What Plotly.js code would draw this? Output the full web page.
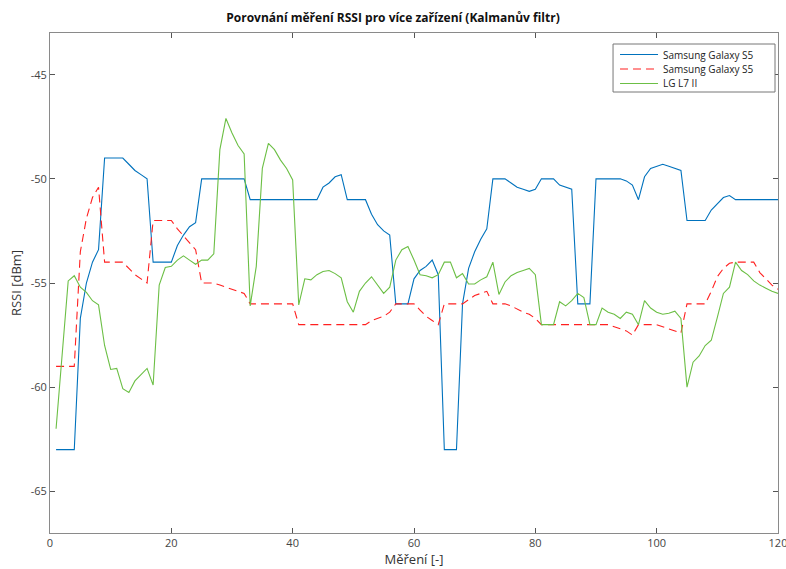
<!DOCTYPE html>
<html>
<head>
<meta charset="utf-8">
<script src="https://cdn.plot.ly/plotly-3.0.1.min.js"></script>
<style>html,body{margin:0;padding:0;background:#fff;}#chart{width:786px;height:569px;}</style>
</head>
<body>
<div id="chart"></div>
<script>
const seriesNames = ['Samsung Galaxy S5', 'Samsung Galaxy S5', 'LG L7 II'];

const samsung1 = [
  -63,-63,-63,-63,-56.7,-55,-54,-53.4,-49,-49,
  -49,-49,-49.3,-49.6,-49.8,-50,-54,-54,-54,-54,
  -53.2,-52.7,-52.3,-52.1,-50,-50,-50,-50,-50,-50,
  -50,-50,-51,-51,-51,-51,-51,-51,-51,-51,
  -51,-51,-51,-51,-50.4,-50.2,-49.9,-49.8,-51,-51,
  -51,-51,-51.7,-52.2,-52.5,-52.7,-56,-56,-56,-54.8,
  -54.4,-54.2,-53.9,-54.6,-63,-63,-63,-56,-54.3,-53.5,
  -52.9,-52.4,-50,-50,-50,-50.2,-50.4,-50.5,-50.6,-50.5,
  -50,-50,-50,-50.3,-50.4,-50.5,-56,-56,-56,-50,
  -50,-50,-50,-50,-50.1,-50.3,-51,-49.9,-49.5,-49.4,
  -49.3,-49.4,-49.5,-49.6,-52,-52,-52,-52,-51.5,-51.2,
  -50.9,-50.8,-51,-51,-51,-51,-51,-51,-51,-51
];

const samsung2 = [
  -59,-59,-59,-59,-53.5,-51.9,-50.9,-50.4,-54,-54,
  -54,-54,-54.3,-54.6,-54.8,-55,-52,-52,-52,-52,
  -52.4,-52.75,-53.1,-53.4,-55,-55,-55,-55.1,-55.2,-55.3,
  -55.4,-55.5,-56,-56,-56,-56,-56,-56,-56,-56,
  -57,-57,-57,-57,-57,-57,-57,-57,-57,-57,
  -57,-57,-56.8,-56.7,-56.6,-56.4,-56,-56,-56,-56,
  -56.3,-56.6,-56.8,-57,-56,-56,-56,-56,-55.8,-55.6,
  -55.5,-55.4,-56,-56,-56,-56.1,-56.25,-56.4,-56.5,-56.7,
  -57,-57,-57,-57,-57,-57,-57,-57,-57,-57,
  -57,-57,-57.1,-57.2,-57.3,-57.5,-57,-57,-57,-57,
  -57.1,-57.2,-57.3,-57.4,-56,-56,-56,-56,-55.4,-54.7,
  -54.3,-54.05,-54,-54,-54,-54,-54.5,-54.8,-55.1,-55.3
];

const lgL7 = [
  -62,-58.4,-54.9,-54.65,-55.2,-55.45,-55.85,-56.05,-58,-59.15,
  -59.1,-60.07,-60.26,-59.7,-59.4,-59.1,-59.9,-55.1,-54.26,-54.2,
  -53.9,-53.7,-53.9,-54.1,-53.9,-53.9,-53.6,-48.6,-47.1,-47.8,
  -48.4,-48.8,-56.1,-54.2,-49.5,-48.3,-48.6,-49.1,-49.5,-50.05,
  -56.05,-54.8,-54.85,-54.6,-54.45,-54.4,-54.55,-54.75,-55.9,-56.4,
  -55.4,-55,-54.7,-55.1,-55.5,-55.2,-53.9,-53.4,-53.25,-53.9,
  -54.6,-54.65,-54.75,-54.6,-54,-54,-54.75,-54.55,-55.05,-55.05,
  -54.85,-54.7,-54,-55.55,-54.95,-54.65,-54.5,-54.4,-54.3,-54.6,
  -57,-57,-57,-55.9,-56.1,-55.85,-55.5,-55.7,-57,-57,
  -56.2,-56.4,-56.5,-56.7,-56.4,-56.5,-57,-55.85,-56.2,-56.4,
  -56.5,-56.45,-56.35,-56.7,-60,-58.8,-58.5,-58,-57.75,-56.65,
  -55.5,-55.2,-54,-54.4,-54.6,-54.9,-55.1,-55.25,-55.4,-55.5
];

const xTickVals = [0, 20, 40, 60, 80, 100, 120];
const yTickVals = [-65, -60, -55, -50, -45];

const measurements = samsung1.map((_, i) => i + 1);

const styles = [
  {color: '#0072BD', width: 1.1},
  {color: '#FF2020', width: 1.1, dash: '8px,5px'},
  {color: '#6CBF45', width: 1.1}
];
const seriesValues = [samsung1, samsung2, lgL7];

const traces = seriesValues.map((vals, i) => ({
  x: measurements, y: vals, name: seriesNames[i], type: 'scatter', mode: 'lines',
  line: styles[i], showlegend: false
}));

/* Custom legend (MATLAB-like compact box) in paper coordinates */
const shapes = [{
  type: 'rect', xref: 'paper', yref: 'paper',
  x0: 0.7734, x1: 0.9959, y0: 0.882, y1: 0.978,
  line: {color: '#777', width: 1}, fillcolor: '#fff', layer: 'above'
}];
const annotations = [];
const rowY = [0.957, 0.928, 0.899];
seriesNames.forEach((n, i) => {
  shapes.push({
    type: 'line', xref: 'paper', yref: 'paper',
    x0: 0.783, x1: 0.8352, y0: rowY[i], y1: rowY[i],
    line: styles[i], layer: 'above'
  });
  annotations.push({
    xref: 'paper', yref: 'paper', x: 0.8393, y: rowY[i],
    xanchor: 'left', yanchor: 'middle', showarrow: false, text: n,
    font: {family: 'Open Sans, sans-serif', size: 10, color: '#222'}
  });
});

const axisCommon = {
  showline: true, linecolor: '#8a8a8a', linewidth: 1, mirror: 'ticks',
  ticks: 'inside', ticklen: 5, tickcolor: '#555', tickwidth: 1,
  showgrid: false, zeroline: false, ticklabeloverflow: 'allow',
  tickfont: {family: 'Open Sans, sans-serif', size: 11, color: '#444'}
};

const layout = {
  width: 786, height: 569,
  margin: {l: 50, r: 8, t: 33, b: 36},
  paper_bgcolor: '#fff', plot_bgcolor: '#fff',
  font: {family: 'Open Sans, sans-serif', color: '#262626'},
  title: {text: '<b>Porovnání měření RSSI pro více zařízení (Kalmanův filtr)</b>',
          font: {family: 'Open Sans, sans-serif', size: 12, color: '#111'},
          x: 0.5, xanchor: 'center', y: 0.968, yanchor: 'middle'},
  xaxis: Object.assign({}, axisCommon, {
    range: [0, 120], tickvals: xTickVals, ticktext: xTickVals.map(String),
    title: {text: 'Měření [-]', font: {family: 'Open Sans, sans-serif', size: 13, color: '#333'}, standoff: 4}
  }),
  yaxis: Object.assign({}, axisCommon, {
    range: [-67, -43], tickvals: yTickVals, ticktext: yTickVals.map(String),
    title: {text: 'RSSI [dBm]', font: {family: 'Open Sans, sans-serif', size: 13, color: '#333'}, standoff: 6}
  }),
  shapes: shapes,
  annotations: annotations,
  showlegend: false
};

Plotly.newPlot('chart', traces, layout, {displayModeBar: false, staticPlot: true});
</script>
</body>
</html>
